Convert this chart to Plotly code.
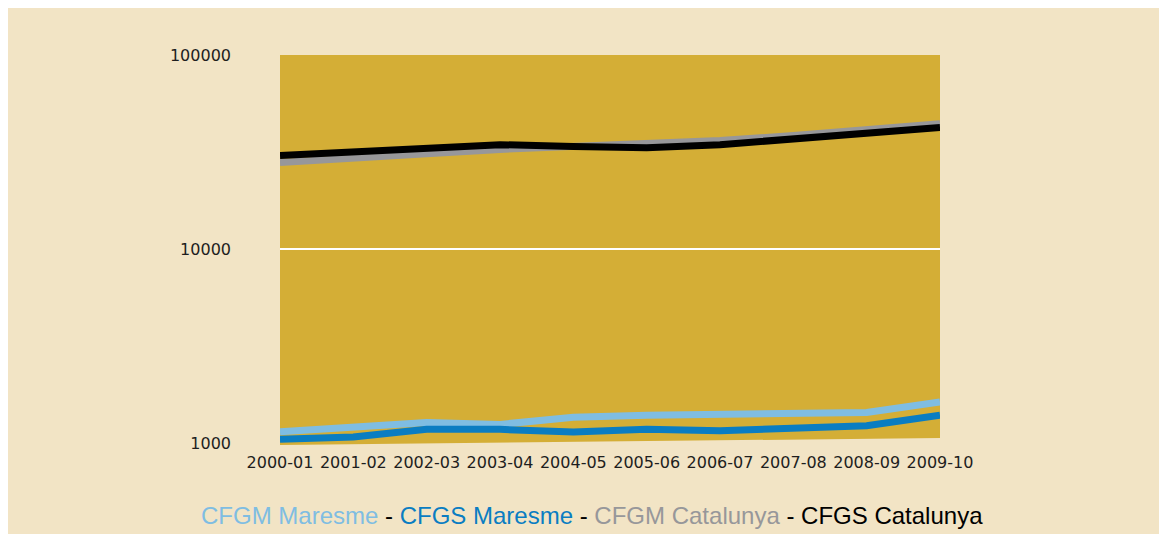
import plotly.graph_objects as go

years = ["2000-01", "2001-02", "2002-03", "2003-04", "2004-05",
         "2005-06", "2006-07", "2007-08", "2008-09", "2009-10"]
cfgm_maresme = [1143, 1198, 1277, 1247, 1359, 1392, 1408, 1408, 1437, 1629]
cfgs_maresme = [1045, 1073, 1176, 1176, 1139, 1176, 1157, 1200, 1227, 1392]
cfgm_catalunya = [27900, 29600, 31000, 32600, 33800, 34900, 36200, 38500, 41200, 44200]
cfgs_catalunya = [30300, 31800, 33000, 34500, 33800, 33300, 34500, 36900, 39800, 42300]

series = [
    ("CFGM Maresme", cfgm_maresme, "#7fbde2"),
    ("CFGS Maresme", cfgs_maresme, "#0a7dc2"),
    ("CFGM Catalunya", cfgm_catalunya, "#97979a"),
    ("CFGS Catalunya", cfgs_catalunya, "#000000"),
]

fig = go.Figure()
for name, vals, col in series:
    fig.add_trace(go.Scatter(x=years, y=vals, name=name, mode="lines",
                             line=dict(color=col, width=7)))

# page has an 8px body margin
OFF = 8
W, H = 1152, 526
L, R, T, B = 280 - OFF, 1160 - 940, 55 - OFF, 534 - 443
pw, ph = W - L - R, H - T - B

def px(x):
    return (x - OFF - L) / pw

def py(y):
    return (H - B - (y - OFF)) / ph

shapes = [
    dict(type="path", xref="paper", yref="paper", layer="below",
         path=f"M 0 1 L 1 1 L 1 {py(438)} L 0 {py(445)} Z",
         fillcolor="#d4ae36", line=dict(width=0)),
]

legend_txt = (
    "<span style='color:#7fbde2'>CFGM Maresme</span> - "
    "<span style='color:#0a7dc2'>CFGS Maresme</span> - "
    "<span style='color:#97979a'>CFGM Catalunya</span> - "
    "<span style='color:#000000'>CFGS Catalunya</span>"
)

fig.update_layout(
    width=W, height=H,
    margin=dict(l=L, r=R, t=T, b=B),
    paper_bgcolor="#f2e4c5",
    plot_bgcolor="rgba(0,0,0,0)",
    showlegend=False,
    shapes=shapes,
    annotations=[dict(text=legend_txt, xref="paper", yref="paper",
                      x=px(591.5), y=py(515), xanchor="center", yanchor="middle",
                      showarrow=False,
                      font=dict(family="Liberation Sans, Arial", size=24, color="#000000"))],
    font=dict(family="DejaVu Sans", size=16, color="#222222"),
)
fig.update_xaxes(type="category", showgrid=False, zeroline=False, showline=False,
                 range=[0, len(years) - 1], tickfont=dict(size=16, color="#1e1e1e"),
                 ticks="", ticklabelstandoff=8, tickangle=0)
fig.update_yaxes(type="log", range=[3, 5], tickvals=[1000, 10000, 100000],
                 ticktext=["1000", "10000", "100000"],
                 showgrid=True, gridcolor="#ffffff", gridwidth=1.5,
                 zeroline=False, showline=False, ticks="",
                 ticklabelstandoff=48, tickfont=dict(size=16, color="#1e1e1e"))

fig.write_html("out.html")
